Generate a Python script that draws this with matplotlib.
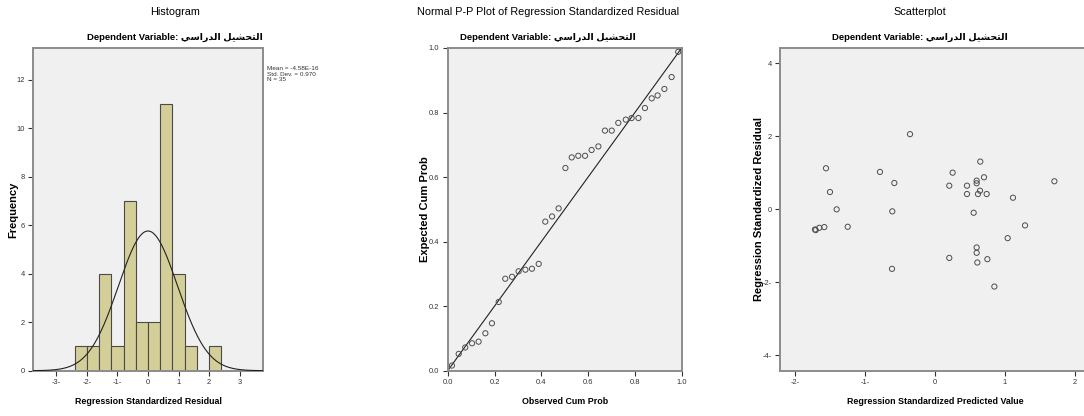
import numpy as np
import matplotlib
matplotlib.use("Agg")
import matplotlib.pyplot as plt

# --- data ---
hist_edges = [-2.4, -2.0, -1.6, -1.2, -0.8, -0.4, 0.0, 0.4, 0.8, 1.2, 1.6, 2.0, 2.4]
hist_counts = [1, 1, 4, 1, 7, 2, 2, 11, 4, 1, 0, 1]
resid_mean = -4.58e-16
resid_std = 0.970
n_cases = 35

pp_observed = [0.018, 0.047, 0.075, 0.104, 0.132, 0.161, 0.189, 0.218, 0.246, 0.275,
               0.303, 0.332, 0.360, 0.389, 0.417, 0.446, 0.474, 0.503, 0.530, 0.558,
               0.587, 0.615, 0.644, 0.672, 0.701, 0.729, 0.761, 0.786, 0.815, 0.843,
               0.872, 0.897, 0.926, 0.957, 0.985]
pp_expected = [0.016, 0.052, 0.072, 0.085, 0.090, 0.116, 0.147, 0.213, 0.285, 0.291,
               0.308, 0.313, 0.316, 0.331, 0.462, 0.478, 0.503, 0.628, 0.661, 0.666,
               0.666, 0.684, 0.695, 0.744, 0.744, 0.768, 0.778, 0.783, 0.783, 0.814,
               0.844, 0.853, 0.873, 0.910, 0.988]

sc_predicted = [-0.357, -1.557, -1.500, -1.405, -1.247, -1.581, -1.653, -1.704, -1.714,
                -0.786, -0.581, -0.610, -0.614, 0.204, 0.252, 0.204, 0.457, 0.457,
                0.595, 0.595, 0.647, 0.700, 0.643, 0.614, 0.738, 0.552, 0.595, 0.595,
                0.605, 0.748, 1.114, 1.286, 1.038, 1.705, 0.848]
sc_residual = [2.06, 1.126, 0.475, 0.0, -0.477, -0.486, -0.505, -0.569, -0.55,
               1.025, 0.722, -0.055, -1.63, 0.648, 1.005, -1.33, 0.648, 0.42,
               0.786, 0.714, 1.308, 0.879, 0.511, 0.42, 0.42, -0.093, -1.044, -1.19,
               -1.456, -1.365, 0.319, -0.44, -0.788, 0.769, -2.115]

hist_xticks = [-3, -2, -1, 0, 1, 2, 3]
hist_yticks = [0, 2, 4, 6, 8, 10, 12]
pp_ticks = [0.0, 0.2, 0.4, 0.6, 0.8, 1.0]
sc_xticks = [-2, -1, 0, 1, 2]
sc_yticks = [-4, -2, 0, 2, 4]

# "التحصيل الدراسي" in presentation forms, visual (left-to-right) order,
# since matplotlib does no Arabic shaping itself
dep_var = "\uFEF2\uFEB3\uFE8D\uFEAD\uFEAA\uFEDF\uFE8D \uFEDE\uFEF4\uFEB8\uFEA4\uFE98\uFEDF\uFE8D"

SANS = ["Liberation Sans", "DejaVu Sans"]
W, H = 1084, 416
BG = "#f0f0f0"
SPINE = "#8c8c8c"


def neg_label(v, fmt="{:g}"):
    s = fmt.format(abs(v))
    return f"-{s}-" if v < 0 else s


def style_axes(ax, xticks, yticks, xlabels, ylabels):
    ax.set_facecolor(BG)
    for sp in ax.spines.values():
        sp.set_color(SPINE)
        sp.set_linewidth(1.4)
    ax.set_xticks(xticks)
    ax.set_yticks(yticks)
    ax.set_xticklabels(xlabels, family=SANS, fontsize=5.4, color="#333333")
    ax.set_yticklabels(ylabels, family=SANS, fontsize=5.4, color="#333333")
    ax.tick_params(length=3.5, width=0.8, color="#333333", pad=2.5,
                   top=False, right=False)


def px_axes(fig, left, top, right, bottom):
    return fig.add_axes([left / W, 1 - bottom / H, (right - left) / W, (bottom - top) / H])


def titles(fig, cx, main):
    fig.text(cx / W, 1 - 12 / H, main, family=SANS, fontsize=7.8,
             ha="center", va="center", color="#000000")
    fig.text(cx / W, 1 - 37 / H, "Dependent Variable: " + dep_var, family=SANS,
             fontsize=6.8, fontweight="bold", ha="center", va="center", color="#000000")


def axis_labels(ax, xlab, ylab, ylab_x):
    ax.set_xlabel(xlab, family=SANS, fontsize=6.4, fontweight="bold", color="#000000")
    ax.xaxis.set_label_coords(0.5, -0.083)
    ax.set_ylabel(ylab, family=SANS, fontsize=8, fontweight="bold", color="#000000")
    ax.yaxis.set_label_coords(ylab_x, 0.5)


fig = plt.figure(figsize=(W / 100, H / 100), dpi=100)
fig.patch.set_facecolor("white")

# --- Histogram ---
ax1 = px_axes(fig, 33, 48, 263, 370.7)
widths = np.diff(hist_edges)
ax1.bar(hist_edges[:-1], hist_counts, width=widths, align="edge",
        color="#d4cf98", edgecolor="#4a4a4a", linewidth=0.8, zorder=2)
bw = widths[0]
xs = np.linspace(-3.8, 3.8, 400)
curve = n_cases * bw * np.exp(-0.5 * ((xs - resid_mean) / resid_std) ** 2) / (resid_std * np.sqrt(2 * np.pi))
ax1.plot(xs, curve, color="#222222", linewidth=0.8, zorder=3)
ax1.set_xlim(-3.77, 3.77)
ax1.set_ylim(0, 13.3)
style_axes(ax1, hist_xticks, hist_yticks,
           [neg_label(v) for v in hist_xticks], [str(v) for v in hist_yticks])
axis_labels(ax1, "Regression Standardized Residual", "Frequency", -0.066)
fig.text(267 / W, 1 - 66 / H,
         f"Mean = {resid_mean:.2E}\nStd. Dev. = {resid_std:.3f}\nN = {n_cases}",
         family=SANS, fontsize=4.6, va="top", ha="left", color="#333333", linespacing=1.15)
titles(fig, 175, "Histogram")

# --- Normal P-P plot ---
ax2 = px_axes(fig, 447.7, 48, 681.7, 370.7)
ax2.plot([0, 1], [0, 1], color="#222222", linewidth=0.8, zorder=2)
ax2.scatter(pp_observed, pp_expected, s=14, facecolors="none",
            edgecolors="#4d4d4d", linewidths=0.7, zorder=3)
ax2.set_xlim(0, 1)
ax2.set_ylim(0, 1)
style_axes(ax2, pp_ticks, pp_ticks,
           [f"{v:.1f}" for v in pp_ticks], [f"{v:.1f}" for v in pp_ticks])
axis_labels(ax2, "Observed Cum Prob", "Expected Cum Prob", -0.076)
titles(fig, 548, "Normal P-P Plot of Regression Standardized Residual")

# --- Scatterplot (right part runs past the figure edge, as in the reference) ---
ax3 = px_axes(fig, 780, 48, 1090, 370.7)
ax3.scatter(sc_predicted, sc_residual, s=14, facecolors="none",
            edgecolors="#4d4d4d", linewidths=0.7, zorder=3)
ax3.set_xlim(-2.214, 2.214)
ax3.set_ylim(-4.42, 4.42)
style_axes(ax3, sc_xticks, sc_yticks,
           [neg_label(v) for v in sc_xticks], [neg_label(v) for v in sc_yticks])
axis_labels(ax3, "Regression Standardized Predicted Value",
            "Regression Standardized Residual", -0.053)
titles(fig, 920, "Scatterplot")

fig.savefig("out.png", dpi=100, facecolor="white")
